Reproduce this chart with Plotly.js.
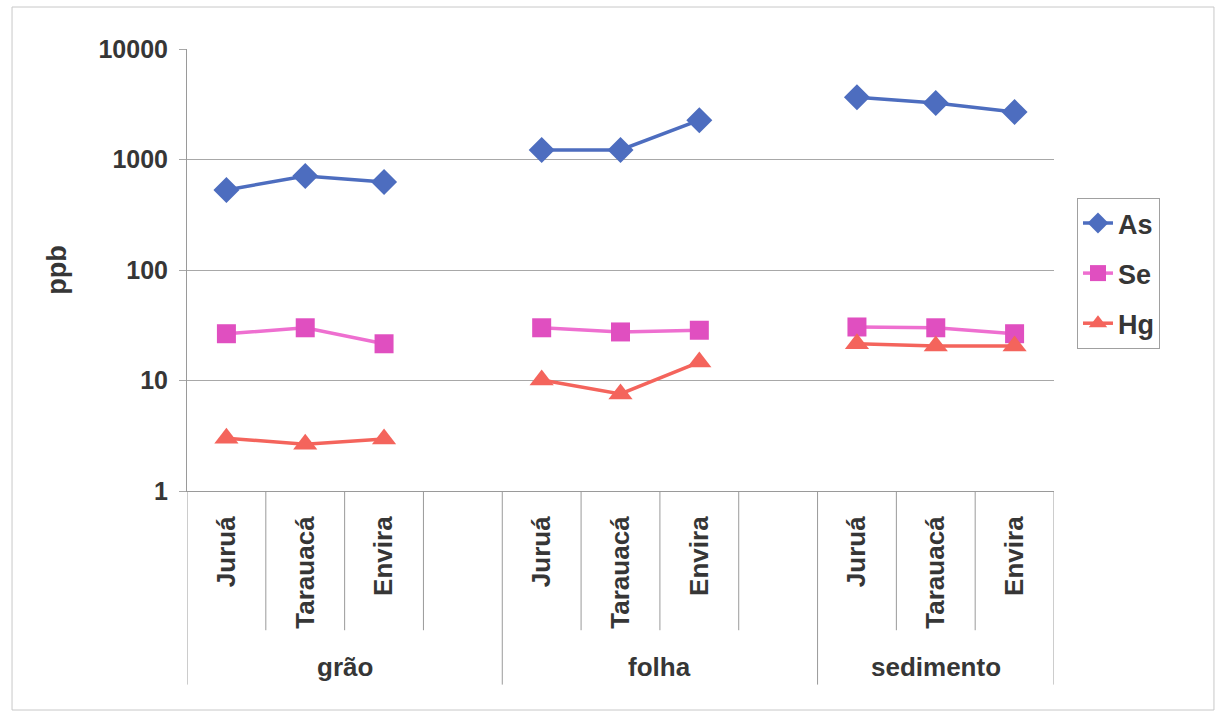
<!DOCTYPE html>
<html>
<head>
<meta charset="utf-8">
<script src="https://cdn.plot.ly/plotly-3.0.1.min.js"></script>
<style>html,body{margin:0;padding:0;background:#fff;}#chart{width:1218px;height:713px;}</style>
</head>
<body>
<div id="chart"></div>
<script>
// Slots: grão (Juruá, Tarauacá, Envira, gap), folha (Juruá, Tarauacá, Envira, gap), sedimento (Juruá, Tarauacá, Envira)
const slotLabels = ['Juruá','Tarauacá','Envira','','Juruá','Tarauacá','Envira','','Juruá','Tarauacá','Envira'];
const groups = ['grão','folha','sedimento'];
const groupStart = [0, 4, 8];
const groupEnd = [3, 7, 10];
const seriesNames = ['As','Se','Hg'];
const asVals = [530, 710, 625, null, 1220, 1220, 2270, null, 3650, 3240, 2690];
const seVals = [26.5, 30, 21.5, null, 30, 27.5, 28.5, null, 30.5, 30, 26.5];
const hgVals = [3.0, 2.65, 2.95, null, 10.1, 7.55, 14.7, null, 21.5, 20.5, 20.5];
const yTicks = [1, 10, 100, 1000, 10000];

const xIdx = slotLabels.map((_, i) => i);
const font = 'Liberation Sans, Arial, sans-serif';
const txt = '#363636';

function tr(name, y, color, lineColor, symbol, size) {
  return {
    x: xIdx, y: y, name: name, type: 'scatter', mode: 'lines+markers',
    connectgaps: false, legendgroup: name,
    line: {color: lineColor, width: 3.5},
    marker: {symbol: symbol, size: size, color: color, line: {width: 0}}
  };
}
const data = [
  tr(seriesNames[0], asVals, '#4d6dbf', '#4d6dbf', 'diamond', 20),
  tr(seriesNames[1], seVals, '#e04fc0', '#ee6fd0', 'square', 19),
  tr(seriesNames[2], hgVals, '#f4645c', '#f4645c', 'triangle-up', 21)
];

const shapes = [];
// category boundary lines
for (let k = 0; k <= slotLabels.length; k++) {
  const isGroup = groupStart.includes(k) || k === slotLabels.length;
  shapes.push({type: 'line', xref: 'x', yref: 'paper', x0: k - 0.5, x1: k - 0.5,
    y0: 0, y1: isGroup ? -0.438 : -0.315, line: {color: '#9a9a9a', width: 1}});
}
// outer border
shapes.push({type: 'rect', xref: 'paper', yref: 'paper', x0: -0.2018, x1: 1.1845, y0: -0.4955, y1: 1.095,
  line: {color: '#c8c8c8', width: 1}});

const annotations = groups.map((g, i) => ({
  text: '<b>' + g + '</b>', xref: 'x', yref: 'paper', x: (groupStart[i] + groupEnd[i]) / 2, y: -0.398,
  showarrow: false, font: {family: font, size: 26, color: txt}, xanchor: 'center', yanchor: 'middle'
}));

const tv = [], tt = [];
slotLabels.forEach((l, i) => { if (l) { tv.push(i); tt.push('<b>' + l + '</b>'); } });

const layout = {
  width: 1218, height: 713,
  margin: {l: 187, r: 164, t: 49, b: 222},
  paper_bgcolor: '#ffffff', plot_bgcolor: '#ffffff',
  showlegend: true,
  legend: {x: 1.0265, y: 0.663, xanchor: 'left', yanchor: 'top',
    bordercolor: '#a0a0a0', borderwidth: 1, bgcolor: '#ffffff',
    font: {family: font, size: 27, color: txt, weight: 'bold'},
    traceorder: 'grouped', tracegroupgap: 12},
  xaxis: {
    range: [-0.5, slotLabels.length - 0.5], showgrid: false, zeroline: false,
    tickvals: tv, ticktext: tt, tickangle: -90, ticks: '', ticklabelstandoff: 14,
    tickfont: {family: font, size: 26, color: txt},
    showline: true, linecolor: '#9a9a9a', linewidth: 1
  },
  yaxis: {
    type: 'log', range: [0, 4], tickvals: yTicks, ticktext: yTicks.map(v => '<b>' + v + '</b>'),
    showgrid: true, gridcolor: '#a8a8a8', gridwidth: 1, zeroline: false,
    showline: true, linecolor: '#9a9a9a', linewidth: 1,
    ticks: 'outside', ticklen: 7, tickcolor: '#a8a8a8', ticklabelstandoff: 6,
    tickfont: {family: font, size: 25, color: txt},
    title: {text: '<b>ppb</b>', font: {family: font, size: 27, color: txt, weight: 'bold'}, standoff: 24}
  },
  shapes: shapes,
  annotations: annotations
};

Plotly.newPlot('chart', data, layout, {displayModeBar: false, staticPlot: true});
</script>
</body>
</html>
